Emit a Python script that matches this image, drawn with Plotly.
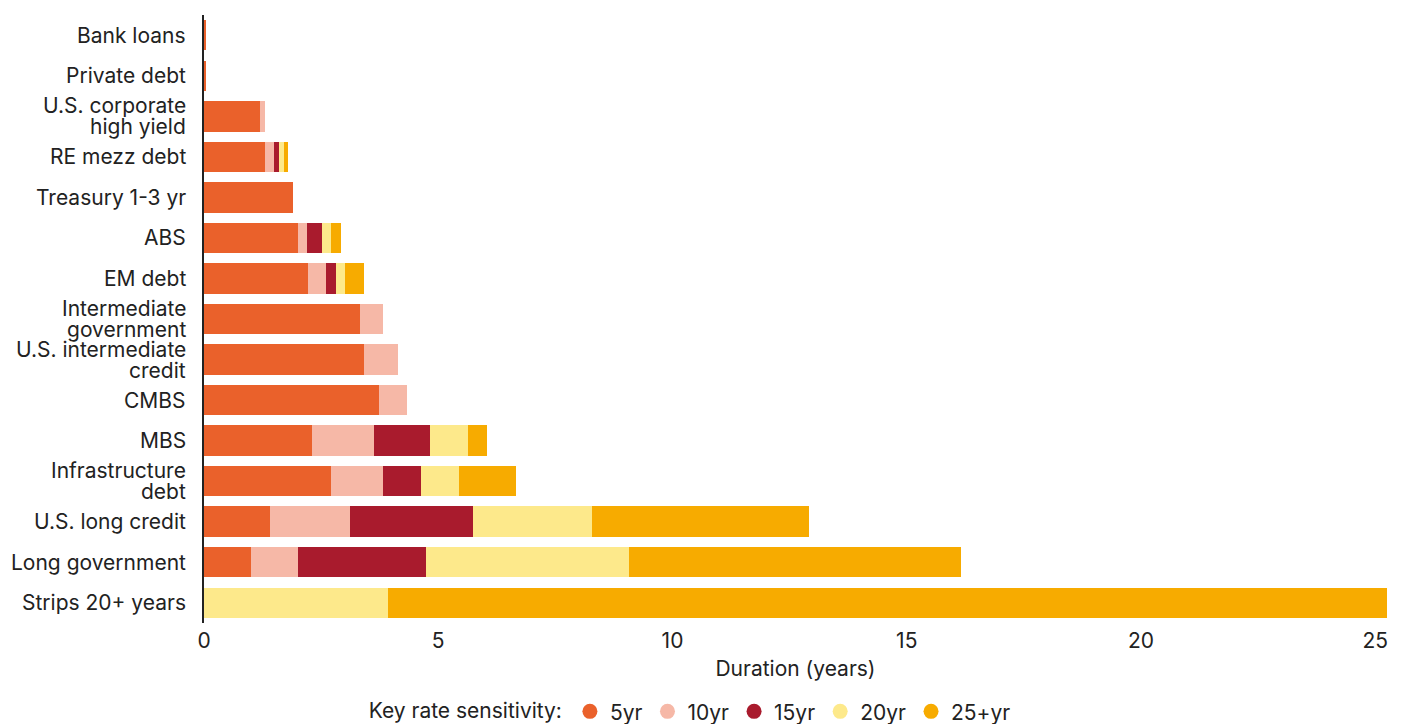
import plotly.graph_objects as go

categories = ["Bank loans", "Private debt", "U.S. corporate<br>high yield", "RE mezz debt",
              "Treasury 1-3 yr", "ABS", "EM debt", "Intermediate<br>government",
              "U.S. intermediate<br>credit", "CMBS", "MBS", "Infrastructure<br>debt",
              "U.S. long credit", "Long government", "Strips 20+ years"]

yr5  = [0.03, 0.03, 1.20, 1.30, 1.90, 2.00, 2.22, 3.33, 3.42, 3.74, 2.31, 2.71, 1.41, 1.00, 0.00]
yr10 = [0.00, 0.00, 0.11, 0.19, 0.00, 0.20, 0.38, 0.49, 0.72, 0.59, 1.32, 1.11, 1.71, 1.01, 0.00]
yr15 = [0.00, 0.00, 0.00, 0.11, 0.00, 0.32, 0.22, 0.00, 0.00, 0.00, 1.19, 0.81, 2.62, 2.73, 0.00]
yr20 = [0.00, 0.00, 0.00, 0.11, 0.00, 0.19, 0.19, 0.00, 0.00, 0.00, 0.81, 0.81, 2.54, 4.33, 3.93]
yr25 = [0.00, 0.00, 0.00, 0.08, 0.00, 0.21, 0.41, 0.00, 0.00, 0.00, 0.41, 1.22, 4.63, 7.09, 21.32]

series_names = ["5yr", "10yr", "15yr", "20yr", "25+yr"]
series_values = [yr5, yr10, yr15, yr20, yr25]
colors = ["#EA612B", "#F6B8A7", "#A91B2D", "#FDE98B", "#F7AB00"]

x_ticks = [0, 5, 10, 15, 20, 25]

font_family = "Inter, Roboto, 'Open Sans', sans-serif"
text_color = "#222222"

fig = go.Figure()
for name, vals, col in zip(series_names, series_values, colors):
    fig.add_trace(go.Bar(
        y=categories, x=vals, name=name, orientation="h",
        marker=dict(color=col, line=dict(width=0)),
        showlegend=False, hoverinfo="x+name",
    ))
for name, col in zip(series_names, colors):
    fig.add_trace(go.Scatter(
        x=[None], y=[None], mode="markers", name=name,
        marker=dict(symbol="circle", size=15, color=col),
        showlegend=True,
    ))

# category labels as annotations (tighter line spacing than tick labels)
annotations = []
for cat in categories:
    lines = cat.split("<br>")
    n = len(lines)
    for i, line in enumerate(lines):
        shift = (n - 1) / 2 * 21 - i * 21
        annotations.append(dict(
            x=0, xref="paper", xanchor="right", xshift=-16,
            y=cat, yref="y", yanchor="middle", yshift=shift,
            text=line, showarrow=False,
            font=dict(size=21, color=text_color, family=font_family),
        ))

fig.update_layout(
    barmode="stack",
    bargap=0.25,
    width=1402, height=724,
    margin=dict(l=204, r=15, t=15, b=101),
    paper_bgcolor="white", plot_bgcolor="white",
    font=dict(family=font_family, color=text_color, size=21),
    annotations=annotations,
    xaxis=dict(
        range=[0, 25.25], tickvals=x_ticks, showgrid=False, zeroline=False,
        showline=False, ticks="", tickfont=dict(size=21, color=text_color),
        ticklabelstandoff=3,
        title=dict(text="Duration (years)", font=dict(size=21, color=text_color), standoff=9),
    ),
    yaxis=dict(
        autorange="reversed", showgrid=False, zeroline=False,
        showline=True, linecolor="#222222", linewidth=2,
        ticks="", showticklabels=False,
    ),
    legend=dict(
        orientation="h", xref="container", yref="container",
        x=0.493, xanchor="center", y=0.017, yanchor="middle",
        traceorder="normal",
        title=dict(text="Key rate sensitivity:", font=dict(size=21, color=text_color)),
        font=dict(size=21, color=text_color),
        itemwidth=30, tracegroupgap=0,
    ),
)

fig.write_html("out.html")
